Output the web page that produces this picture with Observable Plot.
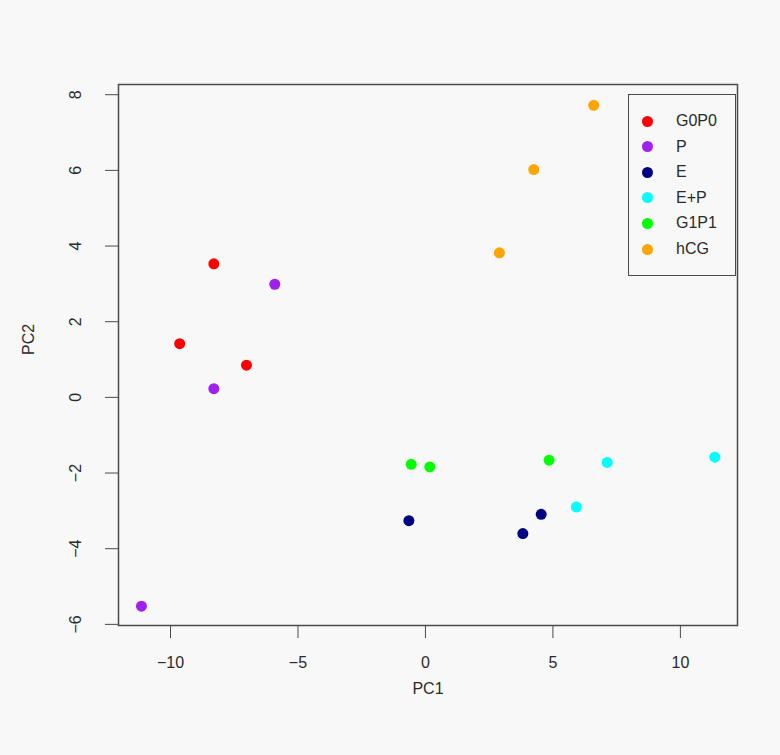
<!DOCTYPE html>
<html>
<head>
<meta charset="utf-8">
<script src="https://cdn.jsdelivr.net/npm/d3@7"></script>
<script src="https://cdn.jsdelivr.net/npm/@observablehq/plot@0.6"></script>
<style>
  html, body { margin: 0; padding: 0; background: #f8f8f8; }
  #wrap { position: relative; width: 780px; height: 755px; }
  #legend {
    position: absolute; left: 628px; top: 94px; width: 108px; height: 182px;
    border: 1.5px solid #4a4a4a; box-sizing: border-box;
    font-family: "Liberation Sans", Arial, sans-serif; font-size: 16px; color: #2a2a2a;
  }
  .row { position: absolute; left: 0; height: 20px; display: flex; align-items: center; }
  .dot { width: 11px; height: 11px; border-radius: 50%; margin-left: 13px; margin-right: 23px; }
</style>
</head>
<body>
<div id="wrap"></div>
<script>
const groups = ["G0P0", "P", "E", "E+P", "G1P1", "hCG"];
const groupColors = ["#ff0000", "#a020f0", "#000080", "#00ffff", "#00ff00", "#ffa500"];

const g0p0X = [-8.30, -9.64, -7.02];
const g0p0Y = [3.53, 1.42, 0.85];
const pX = [-5.91, -8.30, -11.14];
const pY = [2.99, 0.23, -5.52];
const eX = [-0.65, 4.54, 3.82];
const eY = [-3.26, -3.09, -3.60];
const epX = [5.92, 7.13, 11.35];
const epY = [-2.90, -1.72, -1.58];
const g1p1X = [-0.56, 0.17, 4.85];
const g1p1Y = [-1.77, -1.84, -1.66];
const hcgX = [2.90, 4.25, 6.60];
const hcgY = [3.82, 6.02, 7.72];

const xTicks = [-10, -5, 0, 5, 10];
const yTicks = [-6, -4, -2, 0, 2, 4, 6, 8];

const seriesX = [g0p0X, pX, eX, epX, g1p1X, hcgX];
const seriesY = [g0p0Y, pY, eY, epY, g1p1Y, hcgY];
const points = [];
groups.forEach((g, i) => seriesX[i].forEach((x, j) => points.push({group: g, x, y: seriesY[i][j]})));

const fmt = d => (d < 0 ? "\u2212" + Math.abs(d) : String(d));
const font = "Liberation Sans, Arial, sans-serif";

const chart = Plot.plot({
  width: 780,
  height: 755,
  marginLeft: 118,
  marginRight: 43,
  marginTop: 84,
  marginBottom: 130,
  style: { background: "#f8f8f8", fontFamily: font, fontSize: "16px", color: "#2a2a2a" },
  x: { domain: [-12.04, 12.24], label: null },
  y: { domain: [-6.03, 8.27], label: null },
  color: { domain: groups, range: groupColors },
  marks: [
    Plot.frame({ stroke: "#4a4a4a", strokeWidth: 1.5 }),
    Plot.axisX({ ticks: xTicks, tickSize: 13, tickPadding: 18, tickFormat: fmt, stroke: "#4a4a4a", fill: "#2a2a2a", fontSize: 16, label: null }),
    Plot.axisY({ ticks: yTicks, tickSize: 13, tickFormat: () => "", stroke: "#4a4a4a", label: null }),
    Plot.text(yTicks, { y: d => d, text: fmt, frameAnchor: "left", dx: -43, rotate: -90, textAnchor: "middle", fontSize: 16, fill: "#2a2a2a" }),
    Plot.text(["PC1"], { text: d => d, frameAnchor: "bottom", dy: 68, fontSize: 16, fill: "#2a2a2a" }),
    Plot.text(["PC2"], { text: d => d, frameAnchor: "left", dx: -90, rotate: -90, fontSize: 16, fill: "#2a2a2a" }),
    Plot.dot(points, { x: "x", y: "y", fill: "group", r: 5.5 })
  ]
});

const wrap = document.getElementById("wrap");
wrap.appendChild(chart);

const legend = document.createElement("div");
legend.id = "legend";
groups.forEach((g, i) => {
  const row = document.createElement("div");
  row.className = "row";
  row.style.top = (16 + i * 25.6) + "px";
  const dot = document.createElement("span");
  dot.className = "dot";
  dot.style.background = groupColors[i];
  const lab = document.createElement("span");
  lab.textContent = g;
  row.appendChild(dot);
  row.appendChild(lab);
  legend.appendChild(row);
});
wrap.appendChild(legend);
</script>
</body>
</html>
